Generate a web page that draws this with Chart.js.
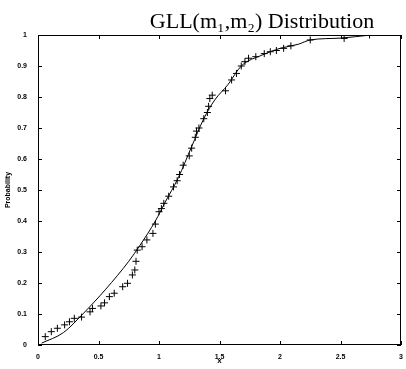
<!DOCTYPE html>
<html>
<head>
<meta charset="utf-8">
<script src="https://cdn.jsdelivr.net/npm/chart.js@4.4.0/dist/chart.umd.min.js"></script>
<style>
  html, body { margin: 0; padding: 0; background: #fff; }
  #wrap { width: 406px; height: 369px; }
</style>
</head>
<body>
<div id="wrap"><canvas id="gllChart" width="406" height="369"></canvas></div>
<script>
// 관측값 (+)
const sampleX = [0.06, 0.11, 0.16, 0.22, 0.26, 0.30, 0.36, 0.43, 0.45, 0.52, 0.55, 0.59, 0.63, 0.70, 0.74, 0.78,
                 0.80, 0.81, 0.82, 0.86, 0.90, 0.95, 0.97, 1.00, 1.02, 1.04, 1.08, 1.12, 1.15, 1.17, 1.20, 1.25, 1.27,
                 1.30, 1.31, 1.33, 1.37, 1.40, 1.41, 1.42, 1.44, 1.55, 1.60, 1.64, 1.68, 1.71, 1.74, 1.80, 1.87,
                 1.92, 1.97, 2.03, 2.09, 2.25, 2.53, 2.74];
const sampleY = [0.027, 0.043, 0.054, 0.065, 0.075, 0.086, 0.09, 0.107, 0.118, 0.126, 0.136, 0.156, 0.167, 0.188, 0.199, 0.226,
                 0.242, 0.27, 0.306, 0.317, 0.339, 0.36, 0.39, 0.43, 0.44, 0.457, 0.48, 0.51, 0.53, 0.55, 0.58, 0.61, 0.635,
                 0.67, 0.69, 0.70, 0.73, 0.75, 0.77, 0.795, 0.806, 0.82, 0.855, 0.876, 0.90, 0.914, 0.925, 0.93, 0.94,
                 0.946, 0.95, 0.957, 0.965, 0.984, 0.989, 1.0];

// 이론 분포 곡선
const curveX = [0.03, 0.21, 0.37, 0.56, 0.75, 0.84, 0.97, 1.05, 1.16, 1.27, 1.37, 1.46, 1.57, 1.68, 1.85, 2.0, 2.15, 2.25, 2.5, 2.75];
const curveY = [0.006, 0.04, 0.10, 0.18, 0.27, 0.32, 0.40, 0.46, 0.54, 0.64, 0.73, 0.79, 0.84, 0.90, 0.935, 0.957, 0.97, 0.984, 0.99, 1.0];

const xTicks = [0, 0.5, 1, 1.5, 2, 2.5, 3];
const yTicks = [0, 0.1, 0.2, 0.3, 0.4, 0.5, 0.6, 0.7, 0.8, 0.9, 1];

const titleText = 'GLL(m\u2081,m\u2082) Distribution';

// 테두리 + 안쪽 눈금 + 제목
const framePlugin = {
    id: 'frame',
    afterDraw: function(chart) {
        const ctx = chart.ctx;
        const a = chart.chartArea;
        const sx = chart.scales.x;
        const sy = chart.scales.y;
        ctx.save();
        ctx.strokeStyle = '#000';
        ctx.lineWidth = 1;
        ctx.strokeRect(a.left + 0.5, a.top + 0.5, a.right - a.left - 1, a.bottom - a.top - 1);
        ctx.beginPath();
        xTicks.forEach(function(v) {
            const px = Math.round(sx.getPixelForValue(v)) + 0.5;
            ctx.moveTo(px, a.bottom); ctx.lineTo(px, a.bottom - 4);
            ctx.moveTo(px, a.top); ctx.lineTo(px, a.top + 4);
        });
        yTicks.forEach(function(v) {
            const py = Math.round(sy.getPixelForValue(v)) + 0.5;
            ctx.moveTo(a.left, py); ctx.lineTo(a.left + 4, py);
            ctx.moveTo(a.right, py); ctx.lineTo(a.right - 4, py);
        });
        ctx.stroke();

        ctx.fillStyle = '#000';
        ctx.font = '22px "Liberation Serif", "DejaVu Serif", serif';
        ctx.textAlign = 'center';
        ctx.textBaseline = 'alphabetic';
        ctx.fillText(titleText, 262, 28);
        ctx.restore();
    }
};

const tickFont = { family: '"Liberation Sans", Arial, sans-serif', size: 7, weight: 'bold' };

new Chart(document.getElementById('gllChart').getContext('2d'), {
    type: 'scatter',
    data: {
        datasets: [
            {
                label: 'curve',
                data: curveX.map((x, i) => ({ x: x, y: curveY[i] })),
                showLine: true,
                borderColor: '#000',
                borderWidth: 1,
                pointRadius: 0,
                cubicInterpolationMode: 'monotone'
            },
            {
                label: 'samples',
                data: sampleX.map((x, i) => ({ x: x, y: sampleY[i] })),
                showLine: false,
                pointStyle: 'cross',
                pointRadius: 3.5,
                borderColor: '#000',
                borderWidth: 1
            }
        ]
    },
    options: {
        responsive: false,
        animation: false,
        layout: { padding: { left: 0, right: 1, top: 35, bottom: 0 } },
        plugins: {
            legend: { display: false },
            title: { display: false },
            tooltip: { enabled: false }
        },
        scales: {
            x: {
                type: 'linear',
                min: 0, max: 3,
                afterFit: function(s) { s.height = 24; },
                afterBuildTicks: function(s) { s.ticks = xTicks.map(v => ({ value: v })); },
                grid: { display: false },
                border: { display: false },
                ticks: { color: '#000', font: tickFont, padding: 0, maxRotation: 0, callback: v => String(v) },
                title: { display: true, text: 'x', color: '#000', font: { family: '"Liberation Sans", Arial, sans-serif', size: 8, weight: 'bold' }, padding: { top: 0, bottom: 3 } }
            },
            y: {
                type: 'linear',
                min: 0, max: 1,
                afterFit: function(s) { s.width = 38; },
                afterBuildTicks: function(s) { s.ticks = yTicks.map(v => ({ value: v })); },
                grid: { display: false },
                border: { display: false },
                ticks: { color: '#000', font: tickFont, padding: 3, callback: v => String(v) },
                title: { display: true, text: 'Probability', color: '#000', font: { family: '"Liberation Sans", Arial, sans-serif', size: 7, weight: 'bold' }, padding: { top: 4, bottom: 0 } }
            }
        }
    },
    plugins: [framePlugin]
});
</script>
</body>
</html>
